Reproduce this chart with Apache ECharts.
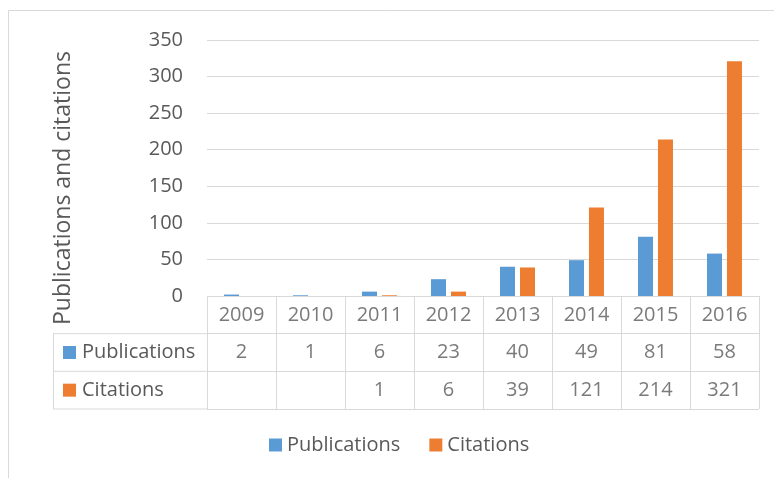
<!DOCTYPE html>
<html><head><meta charset="utf-8">
<script src="https://cdn.jsdelivr.net/npm/echarts@6/dist/echarts.min.js"></script>
<style>html,body{margin:0;padding:0;background:#fff}#c{width:774px;height:478px}</style>
</head><body><div id="c"></div>
<script>
const years = ['2009','2010','2011','2012','2013','2014','2015','2016'];
const publications = [2, 1, 6, 23, 40, 49, 81, 58];
const citations = [null, null, 1, 6, 39, 121, 214, 321];
const yTicks = {min: 0, max: 350, interval: 50};
const rowNames = ['Citations', 'Publications', ''];

const FONT = 'Open Sans';
const TXT = '#595959';
const GRID = '#d9d9d9';
const BLUE = '#5b9bd5', ORANGE = '#ed7d31';
const FS = 20;
const L = 207, W = 552, T = 40, H = 256, TT = 296, TH = 113;

const cells = [];
years.forEach((y, i) => {
  cells.push([i, 2, y]);
  cells.push([i, 1, publications[i] == null ? '' : String(publications[i])]);
  cells.push([i, 0, citations[i] == null ? '' : String(citations[i])]);
});

const chart = echarts.init(document.getElementById('c'), null, {renderer: 'canvas'});
const rowH = TH / 3;
chart.setOption({
  animation: false,
  textStyle: {fontFamily: FONT},
  grid: [
    {left: L, top: T, width: W, height: H},
    {left: L, top: TT, width: W, height: TH}
  ],
  xAxis: [
    {gridIndex: 0, type: 'category', data: years, axisLine: {show: false}, axisTick: {show: false}, axisLabel: {show: false}},
    {gridIndex: 1, type: 'category', data: years, axisLine: {show: false}, axisTick: {show: false}, axisLabel: {show: false},
     splitLine: {show: true, lineStyle: {color: GRID, width: 1}}}
  ],
  yAxis: [
    {gridIndex: 0, type: 'value', min: yTicks.min, max: yTicks.max, interval: yTicks.interval,
     axisLine: {show: false}, axisTick: {show: false},
     axisLabel: {color: TXT, fontSize: FS, fontFamily: FONT, margin: 24},
     splitLine: {lineStyle: {color: GRID, width: 1}},
     name: 'Publications and citations', nameLocation: 'middle', nameGap: 132,
     nameTextStyle: {color: TXT, fontSize: 23, fontFamily: FONT, padding: [0, 0, 0, -40]}},
    {gridIndex: 1, type: 'category', data: rowNames, axisLine: {show: false}, axisTick: {show: false},
     splitLine: {show: true, lineStyle: {color: GRID, width: 1}},
     axisLabel: {align: 'left', margin: 144, color: TXT, fontSize: FS, fontFamily: FONT,
       formatter: function (v) {
         if (v === 'Publications') return '{b|}{t|' + v + '}';
         if (v === 'Citations') return '{o|}{t|' + v + '}';
         return '';
       },
       rich: {
         b: {width: 13, height: 13, backgroundColor: BLUE},
         o: {width: 13, height: 13, backgroundColor: ORANGE},
         t: {color: TXT, fontSize: FS, fontFamily: FONT, padding: [0, 0, 0, 6]}
       }}}
  ],
  legend: {
    left: 264, top: 430, itemWidth: 13, itemHeight: 13, itemGap: 29, icon: 'rect',
    textStyle: {color: TXT, fontSize: FS, fontFamily: FONT},
    data: ['Publications', 'Citations']
  },
  series: [
    {name: 'Publications', type: 'bar', xAxisIndex: 0, yAxisIndex: 0, data: publications,
     itemStyle: {color: BLUE}, barWidth: 15, barGap: '33%'},
    {name: 'Citations', type: 'bar', xAxisIndex: 0, yAxisIndex: 0, data: citations,
     itemStyle: {color: ORANGE}, barWidth: 15, barGap: '33%'},
    {name: 'table', type: 'scatter', xAxisIndex: 1, yAxisIndex: 1, symbolSize: 0,
     data: cells,
     label: {show: true, position: 'inside', color: TXT, fontSize: FS, fontFamily: FONT,
       formatter: p => p.data[2]},
     silent: true}
  ],
  graphic: [
    {type: 'rect', shape: {x: 8.5, y: 10.5, width: 900, height: 600}, style: {fill: null, stroke: GRID, lineWidth: 1}, silent: true},
    {type: 'line', shape: {x1: 53, y1: TT + rowH, x2: L, y2: TT + rowH}, style: {stroke: GRID, lineWidth: 1}},
    {type: 'line', shape: {x1: 53, y1: TT + 2 * rowH, x2: L, y2: TT + 2 * rowH}, style: {stroke: GRID, lineWidth: 1}},
    {type: 'line', shape: {x1: 53, y1: TT + TH, x2: L, y2: TT + TH}, style: {stroke: GRID, lineWidth: 1}},
    {type: 'line', shape: {x1: 53.5, y1: TT + rowH, x2: 53.5, y2: TT + TH}, style: {stroke: GRID, lineWidth: 1}}
  ]
});
</script></body></html>
